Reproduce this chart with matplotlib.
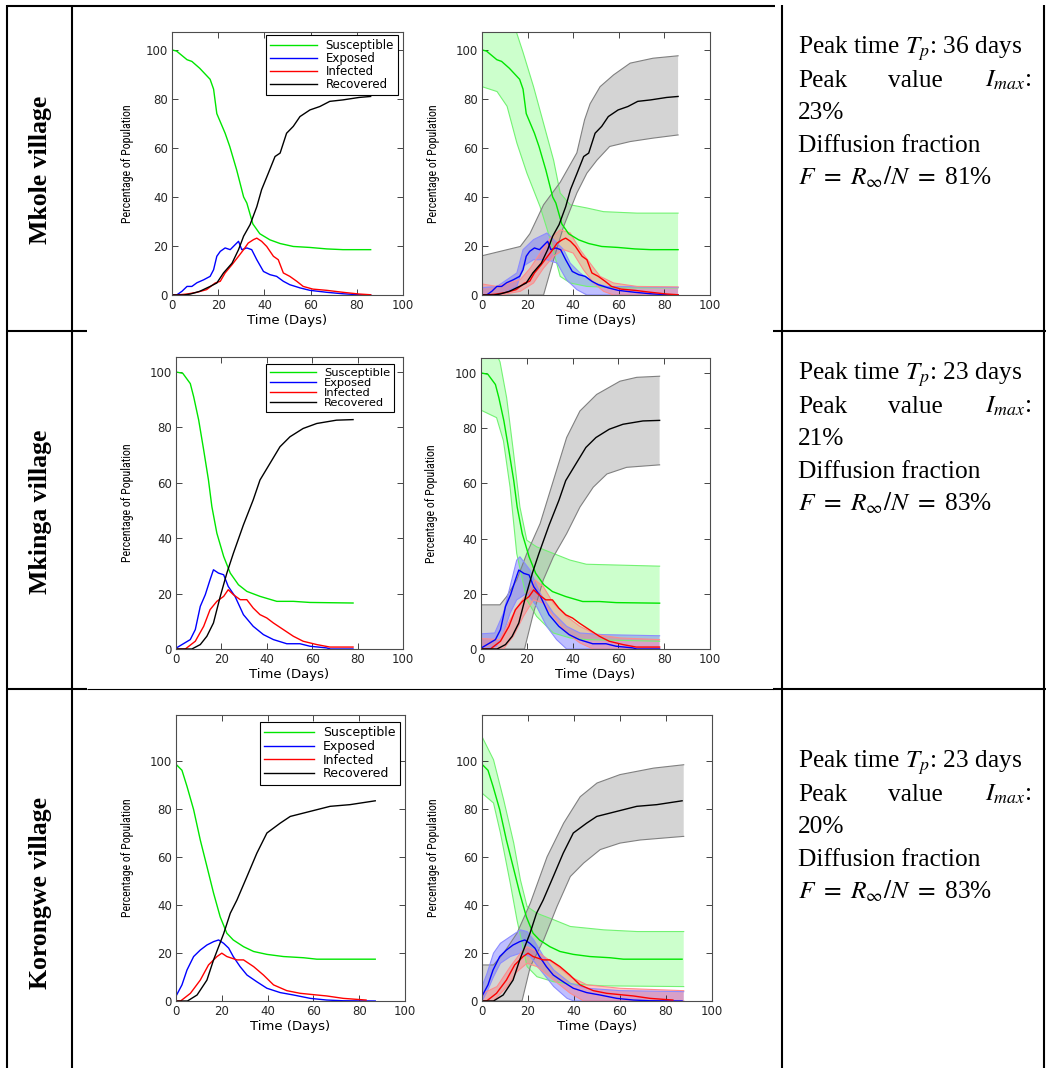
import numpy as np
import matplotlib
matplotlib.use('Agg')
import matplotlib.pyplot as plt
from matplotlib.lines import Line2D
from matplotlib import font_manager

W, H = 1046, 1068

# ---------------- data (time in days, value in % of population) ----------------
# Mkole village
mkole_S = [(0, 100), (2, 99.5), (6.5, 96), (8.6, 95.3), (12, 92.5), (16.5, 88), (18, 84), (19.4, 74),
           (23, 66), (25, 60.6), (28, 51), (31, 40), (32.4, 37.5), (35, 29), (38, 25), (42.4, 22.5),
           (46.8, 21), (52.5, 19.8), (59.7, 19.4), (67, 18.8), (74, 18.5), (86, 18.5)]
mkole_E = [(0, 0), (2, 0), (4.3, 1.5), (6.5, 3.5), (8.6, 3.5), (10.8, 5), (13.7, 6.2), (16.5, 7.6),
           (18, 10.3), (19.4, 15.8), (20.9, 17.8), (23, 19.2), (25.2, 18.5), (27.3, 20.5), (28.8, 21.9),
           (30.2, 18.5), (32.4, 19.2), (34.5, 18.5), (36.7, 14.4), (39.6, 9.6), (42.4, 8.3), (45.3, 7.6),
           (48.2, 5.6), (51, 4.2), (55.4, 2.9), (59.7, 1.9), (67, 1.1), (74, 0.5), (81, 0.1), (86, 0)]
mkole_I = [(0, 0), (2, 0), (6.5, 0.4), (10.8, 1.1), (15, 2.2), (18.7, 4.9), (20.9, 5.6), (23, 9),
           (26, 12.4), (28.8, 15.8), (31, 18.5), (33, 21.2), (35.3, 22.6), (36.7, 23.2), (38.8, 21.9),
           (41, 19.8), (43.9, 15.8), (46, 14.4), (48.2, 9), (51, 7.6), (54, 5.6), (56.8, 3.5), (61, 2.4),
           (67, 1.9), (74, 1.1), (81, 0.4), (86, 0.1)]
mkole_R = [(0, 0), (5, 0), (8, 0.4), (12, 1.5), (16.5, 3.5), (19.4, 4.9), (22.3, 9), (26, 13), (28.8, 18.5),
           (31, 24), (33.8, 28.7), (36.7, 36), (38.8, 43), (41.7, 49.7), (44.6, 56.5), (46.8, 57.9),
           (49.6, 66), (52.5, 68.8), (55.4, 72.8), (59.7, 75.5), (64, 76.9), (68.3, 79), (74, 79.6),
           (81, 80.6), (86, 81)]
mkole_S_hi = [(0, 112), (8, 110), (15, 107.5), (18, 99), (22.6, 85), (27, 70), (31.4, 55), (34.3, 41.6),
              (38.7, 36.8), (46, 35.5), (53.3, 34), (68, 33.4), (86, 33.4)]
mkole_S_lo = [(0, 85), (6.6, 83), (11, 77), (15.3, 62), (19.7, 49.7), (25.5, 36), (30, 22.5), (34.3, 7.6),
              (38.7, 4.9), (46, 3.5), (60.6, 2.9), (86, 2.9)]
mkole_E_hi = [(0, 3), (6.6, 3.5), (15.3, 9), (18, 18.5), (22.6, 22.6), (28.5, 25.3), (31.4, 22.6), (35.8, 18.5),
              (38.7, 13), (43, 9), (49, 4.9), (54.7, 3.5), (86, 3.1)]
mkole_E_lo = [(0, 0), (8, 0), (15.3, 3.5), (18, 11.7), (22.6, 14.4), (28.5, 14.4), (33, 13), (37, 6.3),
              (41.6, 2.2), (46, 0), (86, 0)]
mkole_I_hi = [(0, 4.5), (6.6, 3.5), (16.8, 6.3), (21.2, 11), (25.5, 17.1), (30, 23.2), (34.3, 26.6),
              (38.7, 25.3), (43, 18.5), (47.4, 13), (51.8, 7.6), (57.7, 4.9), (68, 3.5), (86, 3.3)]
mkole_I_lo = [(0, 0), (8, 0), (16.8, 1.5), (22.6, 4.9), (27, 11), (31.4, 15.8), (35.8, 18.5), (40, 17.1),
              (44.5, 10.3), (49, 4.9), (53.3, 1.5), (57.7, 0), (86, 0)]
mkole_R_hi = [(0, 16), (16.8, 19.8), (21, 25), (27, 36.8), (34.3, 46), (41.6, 58), (45, 71.5), (47.4, 78),
              (51.8, 85), (57.7, 89.8), (65, 94.6), (75, 96.6), (86, 97.6)]
mkole_R_lo = [(0, 0), (27, 0), (31.4, 14.4), (35.8, 28), (41.6, 41.6), (46, 49.7), (50.4, 55), (56, 60.6),
              (65, 62.6), (75, 64), (86, 65.3)]

# Mkinga village
mkinga_S = [(0, 100), (3, 99.5), (6.3, 95.8), (7.8, 91), (10, 82.6), (12.2, 71.8), (14.3, 61), (15.8, 51.4),
            (18, 41.8), (21, 33.4), (23.9, 27.4), (27.5, 23.2), (31.2, 20.8), (37, 19), (44.4, 17.2),
            (51.7, 17.2), (59, 16.8), (78, 16.6)]
mkinga_E = [(0, 0.3), (6.3, 3.4), (8.5, 7), (10.7, 15.4), (12.9, 19.6), (15, 25), (16.5, 28.6), (18.7, 27.4),
            (21, 26.8), (23, 22.6), (26, 19), (29.7, 12.4), (34, 8.2), (38.5, 5.2), (42.9, 3.4), (48.8, 1.9),
            (54.6, 1.9), (59, 1), (66.3, 0.4), (68, 0), (78, 0)]
mkinga_I = [(0, 0), (4.1, 0), (8.5, 2.8), (12.2, 8.2), (15, 14.2), (18, 17.2), (21, 19), (23, 21.4),
            (25.3, 19.6), (28.3, 17.8), (31.2, 17.8), (34, 14.8), (37, 12.4), (40, 11.2), (42.9, 9.4),
            (47.3, 7), (51.7, 4.6), (56, 2.8), (62, 1.6), (67.8, 0.7), (78, 0.7)]
mkinga_R = [(0, 0), (7, 0), (10.7, 1.6), (13.6, 4.6), (16.5, 9.4), (19.5, 19), (22.4, 27.4), (25.3, 34.6),
            (29.7, 44.8), (34, 53.8), (37, 61), (41.4, 67), (45.8, 73), (50.2, 76.6), (56, 79.6), (62, 81.4),
            (70.7, 82.6), (78, 82.8)]
mkinga_S_hi = [(0, 112), (5, 110), (8.3, 104), (11.2, 91), (14.1, 71.8), (17, 51.4), (20, 39.4), (24.3, 37),
               (31.6, 34.6), (38.9, 32.2), (46, 30.7), (78, 30)]
mkinga_S_lo = [(0, 86.5), (6.8, 83.8), (9.8, 75.4), (12.7, 58.6), (15.6, 34.6), (20, 17.8), (24.3, 11.8),
               (31.6, 5.8), (38.9, 4), (46, 3.4), (78, 2.8)]
mkinga_E_hi = [(0, 5.5), (6, 5.8), (9.8, 13), (12.7, 22.6), (15.6, 32.2), (17, 33.4), (21.4, 28.6),
               (25.8, 20.2), (31.6, 13), (37.4, 8.2), (43.2, 5.8), (53.4, 5.2), (78, 4.8)]
mkinga_E_lo = [(0, 0), (6.8, 1), (9.8, 5.8), (12.7, 13), (15.6, 17.8), (20, 20.2), (24.3, 15.4), (28.7, 8.2),
               (33, 3.4), (37.4, 0), (78, 0)]
mkinga_I_hi = [(0, 3.8), (8.3, 3.4), (12.7, 10.6), (17, 16.6), (21.4, 21.4), (23.6, 25), (27.2, 22.6),
               (31.6, 16.6), (37.4, 11.8), (43.2, 8.2), (50.5, 5.2), (60.7, 4), (78, 3.4)]
mkinga_I_lo = [(0, 0), (9.8, 0), (14.1, 4.6), (18.5, 11.8), (22.9, 17.8), (27.2, 16.6), (31.6, 11.8),
               (37.4, 5.8), (43.2, 2.2), (49, 0), (78, 0)]
mkinga_R_hi = [(0, 16), (8.3, 16), (11.2, 19), (15.6, 25), (20, 34.6), (25.8, 45.4), (31.6, 61), (37.4, 76.6),
               (43.2, 86.2), (50.5, 92.2), (60.7, 97), (68, 98.4), (78, 98.8)]
mkinga_R_lo = [(0, 0), (19, 0), (22.9, 13), (27.2, 25), (31.6, 33.4), (37.4, 41.8), (43.2, 51.4), (49, 58.6),
               (55, 63.4), (63.6, 65.8), (78, 66.7)]

# Korongwe village
korongwe_S = [(0, 98.5), (2.6, 96), (4.8, 89.3), (7.7, 79.6), (10.6, 67), (13.5, 56), (16.4, 44.9),
              (19.3, 35), (22.2, 28.2), (25, 25.4), (29.5, 22.6), (33.9, 20.6), (39.7, 19.4), (46.9, 18.5),
              (55.7, 18), (61.5, 17.4), (73, 17.4), (87, 17.4)]
korongwe_E = [(0, 2), (2.6, 6.7), (4.8, 12.9), (7.7, 18.5), (10.6, 21.2), (13.5, 23.3), (16.4, 24.7),
              (18.6, 25.4), (20.8, 24), (23, 22), (25, 18.5), (28, 14.3), (31, 10.8), (35.3, 8), (39.7, 5.3),
              (45.5, 3.5), (51.3, 2.5), (58.6, 1.1), (65.8, 0.4), (73, 0.1), (87, 0)]
korongwe_I = [(0, 0), (2, 0), (6.3, 3.2), (10.6, 8.7), (14.2, 15), (17.9, 18.5), (20, 19.9), (22.2, 18.5),
              (26.6, 17.1), (29.5, 17.1), (33.9, 14.3), (38.2, 10.8), (42.6, 6.7), (48.4, 4.3), (54.2, 3.2),
              (61.5, 2.5), (65.8, 2.1), (73, 1.1), (83, 0.4)]
korongwe_R = [(0, 0), (5, 0), (9.2, 2.5), (13.5, 8.7), (16.4, 17.1), (20.8, 28), (23.7, 36.5), (26.6, 42),
              (31, 51.8), (35.3, 61.5), (39.7, 69.9), (45.5, 74), (49.9, 76.8), (55.7, 78.2), (61.5, 79.6),
              (67.3, 81), (76, 81.7), (87, 83.3)]
korongwe_S_hi = [(0, 110), (5, 100.4), (9.4, 83.8), (13.8, 65.7), (16.7, 50.4), (19.6, 39.3), (23.9, 36.5),
                 (31.2, 33.8), (38.4, 31), (53, 29.6), (67.4, 28.9), (87.7, 28.9)]
korongwe_S_lo = [(0, 86.5), (5, 82.4), (8, 70), (12.3, 49), (15.2, 33.8), (19.6, 14.3), (23.9, 10.1),
                 (31.2, 8), (38.4, 7.1), (53, 6.3), (87.7, 6)]
korongwe_E_hi = [(0, 6), (2.2, 11.5), (5, 19.9), (8, 24), (12.3, 26.8), (16.7, 29.6), (19.6, 28.9),
                 (22.5, 25.4), (26.8, 18.5), (31.2, 12.9), (38.4, 7.4), (45.7, 5.3), (60, 4.3), (87.7, 3.9)]
korongwe_E_lo = [(0, 0), (2.2, 3.9), (5, 10.1), (8, 15.7), (12.3, 18.5), (16.7, 19.9), (21, 18.5),
                 (25.4, 12.9), (31.2, 6), (37, 1.1), (39.9, 0), (87.7, 0)]
korongwe_I_hi = [(0, 3), (6.5, 6), (12.3, 14.3), (16.7, 19.9), (19.6, 22.6), (23.9, 20.6), (31.2, 15.7),
                 (38.4, 10.1), (45.7, 6.7), (60, 5.3), (87.7, 4.3)]
korongwe_I_lo = [(0, 0), (5, 0), (10.9, 6), (15.2, 12.2), (19.6, 15.7), (23.9, 14.3), (31.2, 8.7),
                 (38.4, 3.2), (44.2, 0), (87.7, 0)]
korongwe_R_hi = [(0, 15), (5, 15), (9.4, 19.9), (15.2, 28.2), (21, 40.7), (28.3, 60), (35.5, 74), (42.7, 85),
                 (50, 90.7), (60, 94.2), (74.6, 96.9), (87.7, 98.3)]
korongwe_R_lo = [(0, 0), (17.4, 0), (21, 14.3), (26.8, 25.4), (32.6, 39.3), (38.4, 51.8), (44.2, 57.4),
                 (51.4, 63), (60, 65.7), (68.8, 67), (87.7, 68.5)]

villages = ['Mkole village', 'Mkinga village', 'Korongwe village']
peak_days = [36, 23, 23]
peak_values = [23, 21, 20]
diffusion = [81, 83, 83]
series_names = ['Susceptible', 'Exposed', 'Infected', 'Recovered']

# ---------------- styles ----------------
line_cols = [(0, 0.9, 0), (0, 0, 1), (1, 0, 0), (0, 0, 0)]
fill_cols = [(0.5, 1, 0.5), (0.38, 0.38, 1), (1, 0.45, 0.45), (0.58, 0.58, 0.58)]
edge_cols = [(0.45, 0.95, 0.45), (0.55, 0.55, 1), (1, 0.55, 0.55), (0.5, 0.5, 0.5)]

# a condensed face for the y label if one is installed
fonts = font_manager.fontManager.ttflist
names = {f.name for f in fonts}
ylab_kw = dict(family='DejaVu Sans', fontsize=6.8)
for cand in ['Liberation Sans Narrow', 'Roboto Condensed', 'Open Sans Condensed', 'DejaVu Sans Condensed']:
    if cand in names:
        ylab_kw = dict(family=cand, fontsize=8.6)
        break
else:
    if any(f.name == 'DejaVu Sans' and f.stretch == 'condensed' for f in fonts):
        ylab_kw = dict(family='DejaVu Sans', fontstretch='condensed', fontsize=7.8)

plt.rcParams['font.family'] = 'DejaVu Sans'
plt.rcParams['mathtext.fontset'] = 'stix'

fig = plt.figure(figsize=(W / 100, H / 100), dpi=100)


def px_rect(x0, x1, top, bottom):
    return [x0 / W, 1 - bottom / H, (x1 - x0) / W, (bottom - top) / H]


def style_axes(ax, ytop, ylab_px, x0, x1):
    ax.set_xlim(0, 100)
    ax.set_ylim(0, ytop)
    ax.set_xticks(range(0, 101, 20))
    ax.set_yticks(range(0, 101, 20))
    ax.tick_params(direction='in', top=True, right=True, length=4, width=0.6,
                   labelsize=8.5, pad=3, colors='0.15')
    for s in ax.spines.values():
        s.set_color('0.3')
        s.set_linewidth(0.8)
    ax.set_xlabel('Time (Days)', fontsize=9.5, labelpad=1)
    ax.set_ylabel('Percentage of Population', va='center', **ylab_kw)
    ax.yaxis.set_label_coords((ylab_px - x0) / (x1 - x0), 0.5)


def xy(pts):
    a = np.array(pts, dtype=float)
    return a[:, 0], a[:, 1]


rows = [
    dict(mean=[mkole_S, mkole_E, mkole_I, mkole_R],
         hi=[mkole_S_hi, mkole_E_hi, mkole_I_hi, mkole_R_hi],
         lo=[mkole_S_lo, mkole_E_lo, mkole_I_lo, mkole_R_lo],
         left=(172, 403, 32, 295), right=(482, 710, 32, 295), ytop=107.3,
         leg=(398, 35), lfs=8.5, lsp=0.0, label_y=170, text_y=54),
    dict(mean=[mkinga_S, mkinga_E, mkinga_I, mkinga_R],
         hi=[mkinga_S_hi, mkinga_E_hi, mkinga_I_hi, mkinga_R_hi],
         lo=[mkinga_S_lo, mkinga_E_lo, mkinga_I_lo, mkinga_R_lo],
         left=(176, 403, 357, 649), right=(481, 710, 358, 649), ytop=105.4,
         leg=(394, 364), lfs=8.2, lsp=0.0, label_y=512, text_y=380),
    dict(mean=[korongwe_S, korongwe_E, korongwe_I, korongwe_R],
         hi=[korongwe_S_hi, korongwe_E_hi, korongwe_I_hi, korongwe_R_hi],
         lo=[korongwe_S_lo, korongwe_E_lo, korongwe_I_lo, korongwe_R_lo],
         left=(176, 405, 715, 1001), right=(482, 712, 715, 1001), ytop=119,
         leg=(400, 722), lfs=9, lsp=0.05, label_y=893, text_y=768),
]

serif = 'Liberation Serif'
fs_txt = 18.3

for r, row in enumerate(rows):
    # left: mean curves with legend
    axl = fig.add_axes(px_rect(*row['left']))
    handles = []
    for k in range(4):
        t, v = xy(row['mean'][k])
        h, = axl.plot(t, v, color=line_cols[k], lw=1.0, label=series_names[k])
        handles.append(h)
    style_axes(axl, row['ytop'], row['left'][0] - 44 if r == 0 else row['left'][0] - 48,
               row['left'][0], row['left'][1])
    lg = axl.legend(handles=handles, loc='upper right',
                    bbox_to_anchor=(row['leg'][0] / W, 1 - row['leg'][1] / H),
                    bbox_transform=fig.transFigure, borderaxespad=0, fontsize=row['lfs'],
                    labelspacing=row['lsp'], handlelength=4.0, handletextpad=0.7,
                    borderpad=0.35, fancybox=False, framealpha=1)
    lg.get_frame().set_edgecolor('black')
    lg.get_frame().set_linewidth(0.8)

    # right: mean curves with bands
    axr = fig.add_axes(px_rect(*row['right']))
    for k in [0, 3, 1, 2]:
        th, vh = xy(row['hi'][k])
        tl, vl = xy(row['lo'][k])
        axr.fill(np.concatenate([th, tl[::-1]]), np.concatenate([vh, vl[::-1]]),
                 facecolor=fill_cols[k], alpha=0.4, edgecolor='none')
        axr.plot(th, vh, color=edge_cols[k], lw=0.8)
        axr.plot(tl, vl, color=edge_cols[k], lw=0.8)
    for k in range(4):
        t, v = xy(row['mean'][k])
        axr.plot(t, v, color=line_cols[k], lw=1.0)
    style_axes(axr, row['ytop'], row['right'][0] - 49, row['right'][0], row['right'][1])

    # table cells: village name and summary text
    fig.text(41 / W, 1 - row['label_y'] / H, villages[r], rotation=90, ha='center', va='center',
             family=serif, fontweight='bold', fontsize=18.5)
    y0 = row['text_y']
    dy = 32.7
    kw = dict(family=serif, fontsize=fs_txt, va='baseline', ha='left')
    fig.text(798 / W, 1 - y0 / H, 'Peak time $T_p$: %d days' % peak_days[r], **kw)
    fig.text(798 / W, 1 - (y0 + dy) / H, 'Peak', **kw)
    fig.text(888 / W, 1 - (y0 + dy) / H, 'value', **kw)
    fig.text(1031 / W, 1 - (y0 + dy) / H, '$I_{max}$:', family=serif, fontsize=fs_txt,
             va='baseline', ha='right')
    fig.text(798 / W, 1 - (y0 + 2 * dy) / H, '%d%%' % peak_values[r], **kw)
    fig.text(798 / W, 1 - (y0 + 3 * dy) / H, 'Diffusion fraction', **kw)
    fig.text(798 / W, 1 - (y0 + 4 * dy) / H,
             r'$F\ =\ R_{\infty}/N\ =\ $%d%%' % diffusion[r], **kw)


# ---------------- table rules ----------------
def rule(x0, y0, x1, y1, lw=1.5):
    fig.add_artist(Line2D([x0 / W, x1 / W], [1 - y0 / H, 1 - y1 / H], transform=fig.transFigure,
                          color='black', lw=lw, solid_capstyle='butt'))


for x in [7, 72, 782, 1044]:
    rule(x, 5, x, H)
rule(7, 6, 775, 6)
rule(7, 331, 87, 331)
rule(773, 331, 1046, 331)
rule(7, 689, 87, 689)
rule(87, 689, 773, 689, lw=0.8)
rule(773, 689, 1046, 689)

fig.savefig('out.png', dpi=100)
